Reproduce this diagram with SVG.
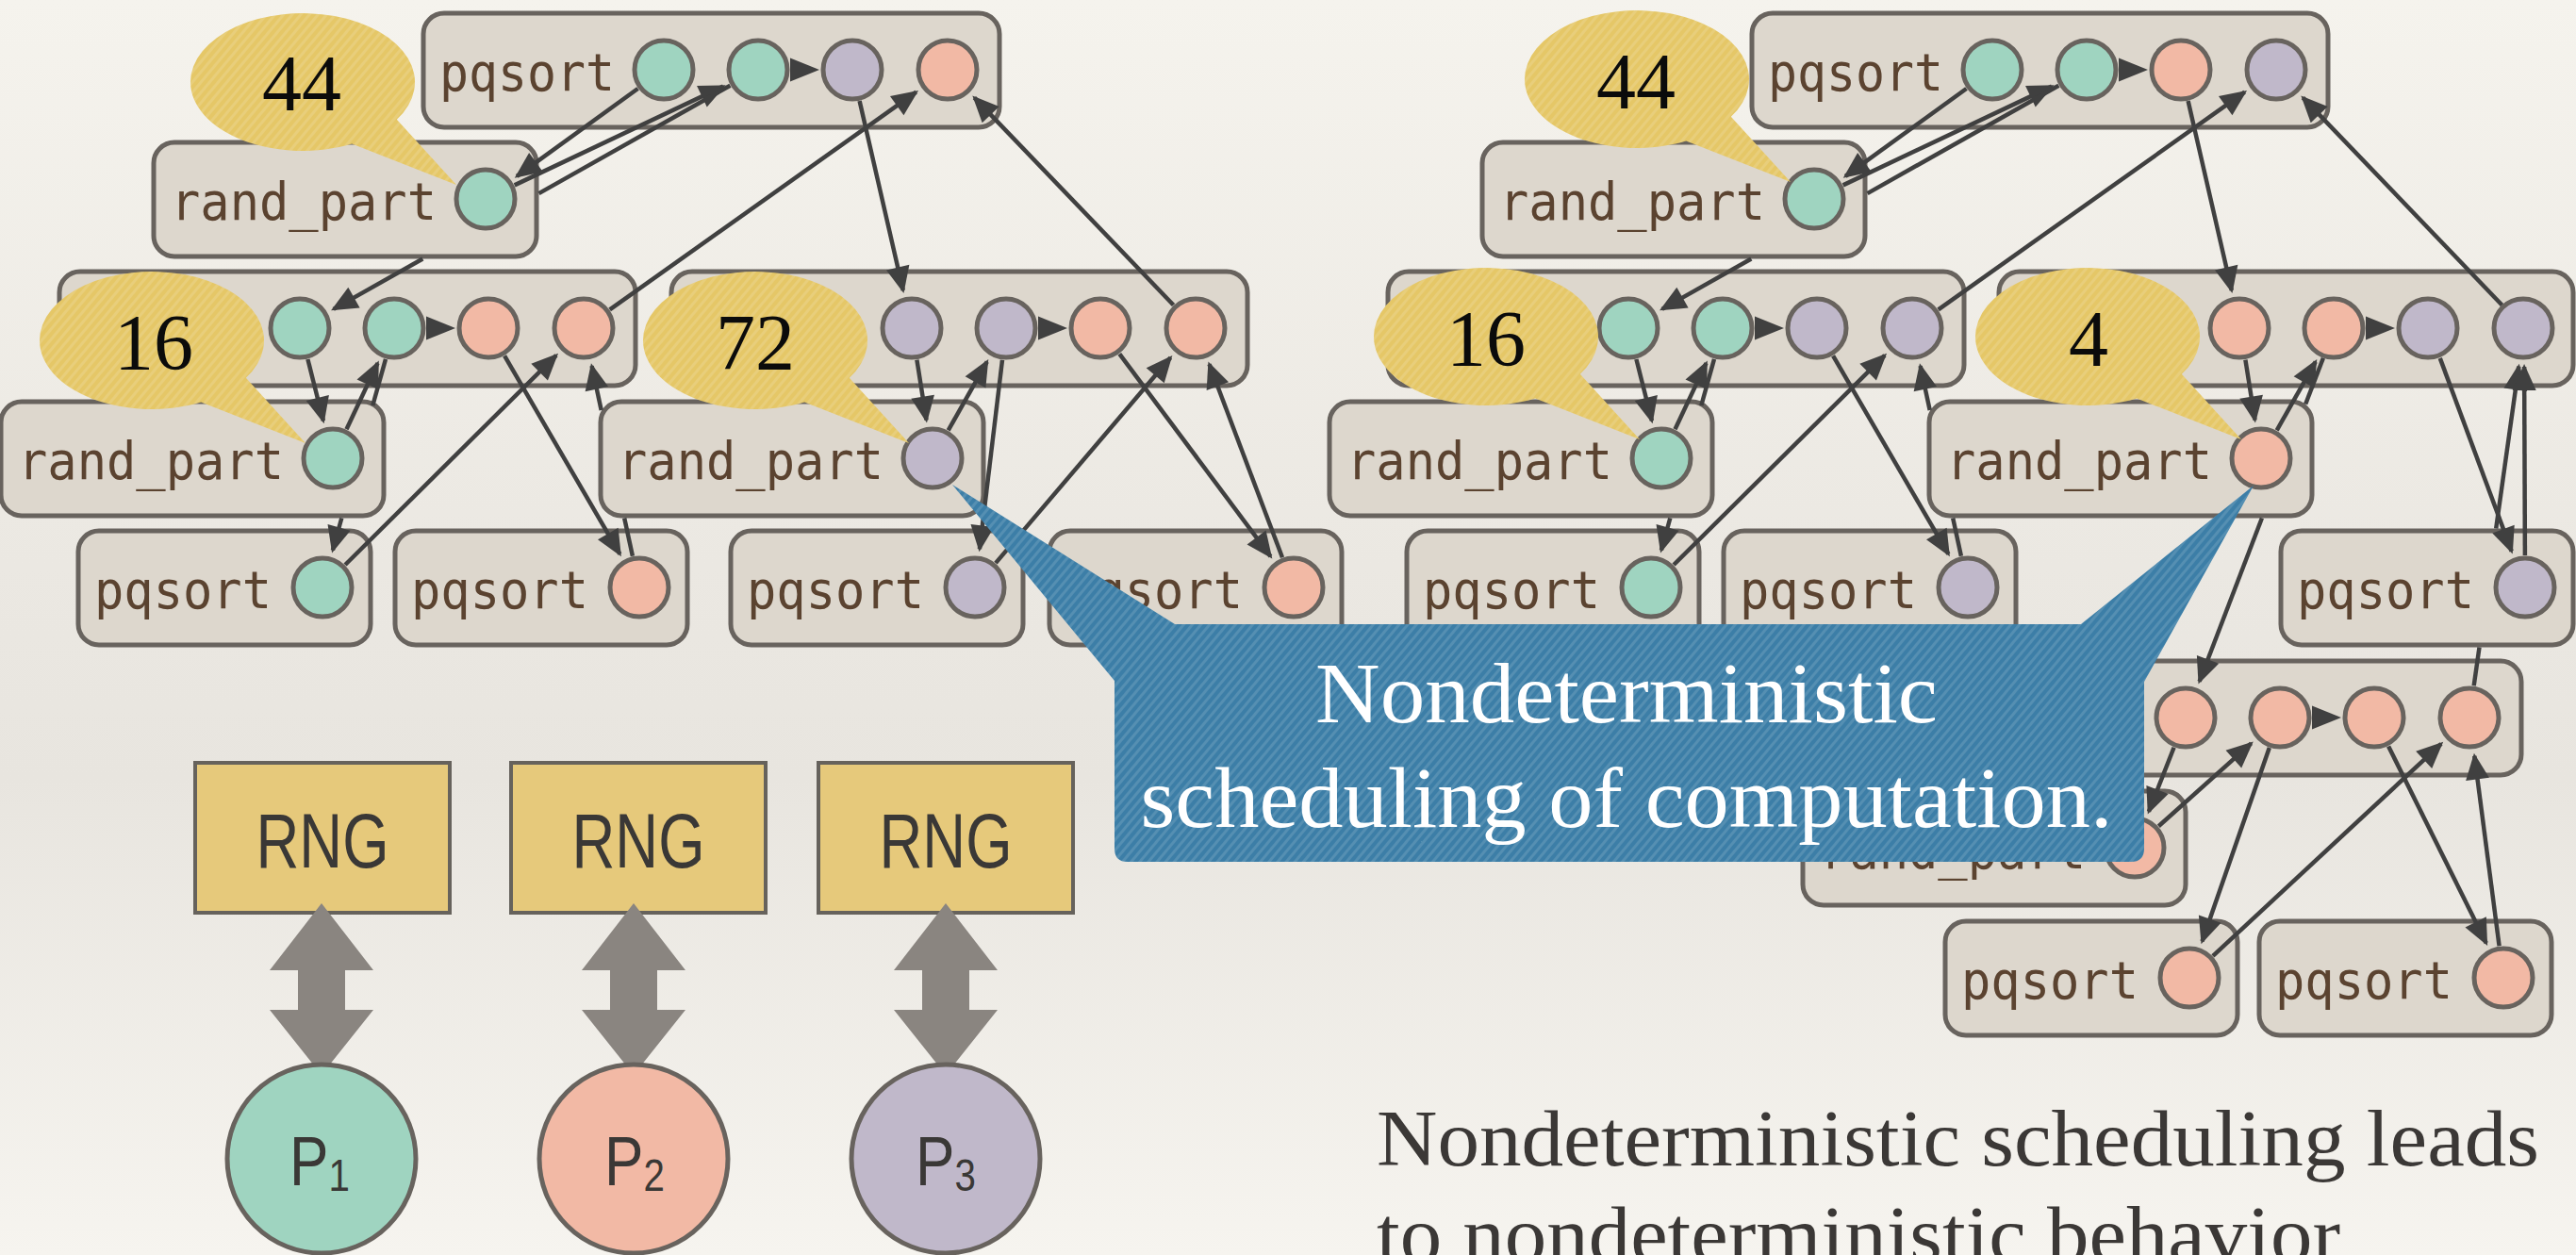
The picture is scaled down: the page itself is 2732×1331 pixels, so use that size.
<svg xmlns="http://www.w3.org/2000/svg" width="2732" height="1331" viewBox="0 0 2732 1331">
  <defs>
    <linearGradient id="bg" x1="0" y1="0" x2="0" y2="1">
      <stop offset="0" stop-color="#f5f3ed"/>
      <stop offset="0.45" stop-color="#ebe8e2"/>
      <stop offset="0.62" stop-color="#e8e5df"/>
      <stop offset="1" stop-color="#f6f4ef"/>
    </linearGradient>
    <pattern id="grain" width="7" height="7" patternUnits="userSpaceOnUse" patternTransform="rotate(40)">
      <rect width="3" height="7" fill="#ffffff" fill-opacity="0.13"/>
    </pattern>
    <marker id="ah" markerUnits="userSpaceOnUse" markerWidth="30" markerHeight="26" refX="25" refY="12.5" orient="auto" overflow="visible">
      <path d="M0,0 L28,12.5 L0,25 Z" fill="#404040"/>
    </marker>
    <!-- speech bubble: ellipse with a tail to the lower right, centred on 0,0 -->
    <path id="bub" d="M-119,0 A119,73 0 1,1 99.8,39.8 L163,109 L52.2,65.6 A119,73 0 0,1 -119,0 Z"/>
    <style>
      .box { fill:#ddd7cd; stroke:#68635e; stroke-width:5; }
      .lbl { font-family:"DejaVu Sans Mono","Liberation Mono",monospace; font-size:56px; fill:#5b4330; }
      .nd { stroke:#68635e; stroke-width:5; }
      .t { fill:#9fd4c0; }
      .s { fill:#f2b9a5; }
      .p { fill:#c0b8ca; }
      .edge { fill:none; stroke:#404040; stroke-width:4.5; }
      .a { marker-end:url(#ah); }
      .hz { fill:#404040; }
      .bfill { fill:#e5c767; }
      .btex { fill:url(#grain); }
      .btxt { font-family:"Liberation Serif","Times New Roman",serif; font-size:84px; fill:#0b0b0b; text-anchor:middle; }
      .call { fill:#3c7ea7; }
      .ctxt { font-family:"Liberation Serif","Times New Roman",serif; font-size:92px; fill:#ffffff; text-anchor:middle; }
      .rng { fill:#e6c97b; stroke:#66625c; stroke-width:4; }
      .rngt { font-family:"Liberation Sans",Arial,sans-serif; font-size:82px; fill:#3a3836; text-anchor:middle; }
      .dbl { fill:#8a8580; }
      .pt { font-family:"Liberation Sans",Arial,sans-serif; font-size:74px; fill:#3a3836; text-anchor:middle; }
      .big { font-family:"Liberation Serif","Times New Roman",serif; font-size:84px; fill:#3b3836; }
    </style>
  </defs>

  <rect width="2732" height="1331" fill="url(#bg)"/>

  <!-- ===== left computation tree ===== -->
  <g id="A">
    <rect class="box" x="449" y="14" width="611" height="121" rx="22"/>
    <text class="lbl" x="466" y="96" textLength="186" lengthAdjust="spacingAndGlyphs">pqsort</text>
    <circle class="nd t" cx="704" cy="74" r="31"/>
    <circle class="nd t" cx="804" cy="74" r="31"/>
    <circle class="nd p" cx="904" cy="74" r="31"/>
    <circle class="nd s" cx="1005" cy="74" r="31"/>
  </g>
  <g id="B">
    <rect class="box" x="163" y="151" width="406" height="121" rx="22"/>
    <text class="lbl" x="181" y="233" textLength="282" lengthAdjust="spacingAndGlyphs">rand_part</text>
    <circle class="nd t" cx="515" cy="211" r="31"/>
  </g>
  <g id="C">
    <rect class="box" x="63" y="288" width="611" height="121" rx="22"/>
    <circle class="nd t" cx="318" cy="348" r="31"/>
    <circle class="nd t" cx="418" cy="348" r="31"/>
    <circle class="nd s" cx="518" cy="348" r="31"/>
    <circle class="nd s" cx="619" cy="348" r="31"/>
  </g>
  <g id="D">
    <rect class="box" x="712" y="288" width="611" height="121" rx="22"/>
    <circle class="nd p" cx="967" cy="348" r="31"/>
    <circle class="nd p" cx="1067" cy="348" r="31"/>
    <circle class="nd s" cx="1167" cy="348" r="31"/>
    <circle class="nd s" cx="1268" cy="348" r="31"/>
  </g>
  <g id="E">
    <rect class="box" x="1" y="426" width="406" height="121" rx="22"/>
    <text class="lbl" x="19" y="508" textLength="282" lengthAdjust="spacingAndGlyphs">rand_part</text>
    <circle class="nd t" cx="353" cy="486" r="31"/>
  </g>
  <g id="F">
    <rect class="box" x="637" y="426" width="406" height="121" rx="22"/>
    <text class="lbl" x="655" y="508" textLength="282" lengthAdjust="spacingAndGlyphs">rand_part</text>
    <circle class="nd p" cx="989" cy="486" r="31"/>
  </g>
  <g id="G">
    <rect class="box" x="83" y="563" width="310" height="121" rx="22"/>
    <text class="lbl" x="100" y="645" textLength="188" lengthAdjust="spacingAndGlyphs">pqsort</text>
    <circle class="nd t" cx="342" cy="623" r="31"/>
  </g>
  <g id="H">
    <rect class="box" x="419" y="563" width="310" height="121" rx="22"/>
    <text class="lbl" x="436" y="645" textLength="188" lengthAdjust="spacingAndGlyphs">pqsort</text>
    <circle class="nd s" cx="678" cy="623" r="31"/>
  </g>
  <g id="I">
    <rect class="box" x="775" y="563" width="310" height="121" rx="22"/>
    <text class="lbl" x="792" y="645" textLength="188" lengthAdjust="spacingAndGlyphs">pqsort</text>
    <circle class="nd p" cx="1034" cy="623" r="31"/>
  </g>
  <g id="J">
    <rect class="box" x="1113" y="563" width="310" height="121" rx="22"/>
    <text class="lbl" x="1130" y="645" textLength="188" lengthAdjust="spacingAndGlyphs">pqsort</text>
    <circle class="nd s" cx="1372" cy="623" r="31"/>
  </g>

  <!-- ===== right computation tree ===== -->
  <g id="A2">
    <rect class="box" x="1858" y="14" width="611" height="121" rx="22"/>
    <text class="lbl" x="1875" y="96" textLength="186" lengthAdjust="spacingAndGlyphs">pqsort</text>
    <circle class="nd t" cx="2113" cy="74" r="31"/>
    <circle class="nd t" cx="2213" cy="74" r="31"/>
    <circle class="nd s" cx="2313" cy="74" r="31"/>
    <circle class="nd p" cx="2414" cy="74" r="31"/>
  </g>
  <g id="B2">
    <rect class="box" x="1572" y="151" width="406" height="121" rx="22"/>
    <text class="lbl" x="1590" y="233" textLength="282" lengthAdjust="spacingAndGlyphs">rand_part</text>
    <circle class="nd t" cx="1924" cy="211" r="31"/>
  </g>
  <g id="C2">
    <rect class="box" x="1472" y="288" width="611" height="121" rx="22"/>
    <circle class="nd t" cx="1727" cy="348" r="31"/>
    <circle class="nd t" cx="1827" cy="348" r="31"/>
    <circle class="nd p" cx="1927" cy="348" r="31"/>
    <circle class="nd p" cx="2028" cy="348" r="31"/>
  </g>
  <g id="D2">
    <rect class="box" x="2120" y="288" width="609" height="121" rx="22"/>
    <circle class="nd s" cx="2375" cy="348" r="31"/>
    <circle class="nd s" cx="2475" cy="348" r="31"/>
    <circle class="nd p" cx="2575" cy="348" r="31"/>
    <circle class="nd p" cx="2676" cy="348" r="31"/>
  </g>
  <g id="E2">
    <rect class="box" x="1410" y="426" width="406" height="121" rx="22"/>
    <text class="lbl" x="1428" y="508" textLength="282" lengthAdjust="spacingAndGlyphs">rand_part</text>
    <circle class="nd t" cx="1762" cy="486" r="31"/>
  </g>
  <g id="F2">
    <rect class="box" x="2046" y="426" width="406" height="121" rx="22"/>
    <text class="lbl" x="2064" y="508" textLength="282" lengthAdjust="spacingAndGlyphs">rand_part</text>
    <circle class="nd s" cx="2398" cy="486" r="31"/>
  </g>
  <g id="G2">
    <rect class="box" x="1492" y="563" width="310" height="121" rx="22"/>
    <text class="lbl" x="1509" y="645" textLength="188" lengthAdjust="spacingAndGlyphs">pqsort</text>
    <circle class="nd t" cx="1751" cy="623" r="31"/>
  </g>
  <g id="H2">
    <rect class="box" x="1828" y="563" width="310" height="121" rx="22"/>
    <text class="lbl" x="1845" y="645" textLength="188" lengthAdjust="spacingAndGlyphs">pqsort</text>
    <circle class="nd p" cx="2087" cy="623" r="31"/>
  </g>
  <g id="K2">
    <rect class="box" x="2419" y="563" width="310" height="121" rx="22"/>
    <text class="lbl" x="2436" y="645" textLength="188" lengthAdjust="spacingAndGlyphs">pqsort</text>
    <circle class="nd p" cx="2678" cy="623" r="31"/>
  </g>
  <g id="L2">
    <rect class="box" x="2063" y="701" width="611" height="121" rx="22"/>
    <circle class="nd s" cx="2318" cy="761" r="31"/>
    <circle class="nd s" cx="2418" cy="761" r="31"/>
    <circle class="nd s" cx="2518" cy="761" r="31"/>
    <circle class="nd s" cx="2619" cy="761" r="31"/>
  </g>
  <g id="M2">
    <rect class="box" x="1912" y="839" width="406" height="121" rx="22"/>
    <text class="lbl" x="1930" y="921" textLength="282" lengthAdjust="spacingAndGlyphs">rand_part</text>
    <circle class="nd s" cx="2264" cy="899" r="31"/>
  </g>
  <g id="N2">
    <rect class="box" x="2063" y="977" width="310" height="121" rx="22"/>
    <text class="lbl" x="2080" y="1059" textLength="188" lengthAdjust="spacingAndGlyphs">pqsort</text>
    <circle class="nd s" cx="2322" cy="1037" r="31"/>
  </g>
  <g id="O2">
    <rect class="box" x="2396" y="977" width="310" height="121" rx="22"/>
    <text class="lbl" x="2413" y="1059" textLength="188" lengthAdjust="spacingAndGlyphs">pqsort</text>
    <circle class="nd s" cx="2655" cy="1037" r="31"/>
  </g>

  <!-- ===== connectors (segments stop where a box lies over the edge) ===== -->
  <g id="connectors">
    <!-- left tree -->
    <path class="edge a" d="M676.5,94 L548.2,186.9"/>
    <path class="edge a" d="M545.7,196.4 L767,91.6"/>
    <path class="edge" d="M774.4,90.7 L571.5,205.1"/>
    <path class="edge a" d="M448.3,274.5 L353.7,327.9"/>
    <path class="edge a" d="M911.6,107.1 L957.8,308"/>
    <path class="edge a" d="M646.7,328.3 L971.6,97.7"/>
    <path class="edge a" d="M1244.5,323.5 L1033.4,103.6"/>
    <path class="edge a" d="M326.4,381 L342.9,446.3"/>
    <path class="edge a" d="M367.5,455.2 L400.5,385.1"/>
    <path class="edge" d="M409,380.8 L395.3,430"/>
    <path class="edge a" d="M362.3,549.5 L352.9,583.5"/>
    <path class="edge a" d="M535.1,377.4 L657.4,587.6"/>
    <path class="edge a" d="M366.1,599 L589.9,376.9"/>
    <path class="edge" d="M670.9,589.8 L662.2,549.5"/>
    <path class="edge a" d="M637.7,435 L627.6,388.1"/>
    <path class="edge a" d="M972.4,381.6 L982.5,445.5"/>
    <path class="edge a" d="M1005.7,456.4 L1046.8,383.7"/>
    <path class="edge a" d="M1063,381.8 L1038.9,582.3"/>
    <path class="edge a" d="M1187.3,375.3 L1347.5,590.1"/>
    <path class="edge a" d="M1056,597.1 L1241.4,379.2"/>
    <path class="edge a" d="M1360,591.2 L1282.5,386.3"/>
    <polygon class="hz" points="838,61.5 869,74 838,86.5"/>
    <polygon class="hz" points="452,335.5 483,348 452,360.5"/>
    <polygon class="hz" points="1101,335.5 1132,348 1101,360.5"/>
    <!-- right tree -->
    <path class="edge a" d="M2085.5,94 L1957.2,186.9"/>
    <path class="edge a" d="M1954.7,196.4 L2176,91.6"/>
    <path class="edge" d="M2183.4,90.7 L1980.5,205.1"/>
    <path class="edge a" d="M1857.3,274.5 L1762.7,327.9"/>
    <path class="edge a" d="M2320.6,107.1 L2366.8,308"/>
    <path class="edge a" d="M2055.7,328.3 L2380.6,97.7"/>
    <path class="edge a" d="M2653.5,323.5 L2442.4,103.6"/>
    <path class="edge a" d="M1735.4,381 L1751.9,446.3"/>
    <path class="edge a" d="M1776.5,455.2 L1809.5,385.1"/>
    <path class="edge" d="M1818,380.8 L1804.3,430"/>
    <path class="edge a" d="M1771.3,549.5 L1761.9,583.5"/>
    <path class="edge a" d="M1944.1,377.4 L2066.4,587.6"/>
    <path class="edge a" d="M1775.1,599 L1998.9,376.9"/>
    <path class="edge" d="M2079.9,589.8 L2071.2,549.5"/>
    <path class="edge a" d="M2046.7,435 L2036.6,388.1"/>
    <path class="edge a" d="M2381.4,381.6 L2391.5,445.5"/>
    <path class="edge a" d="M2414.7,456.4 L2455.8,383.7"/>
    <path class="edge" d="M2463.9,379.8 L2445.2,428.5"/>
    <path class="edge a" d="M2398.9,549.5 L2332.6,722.7"/>
    <path class="edge a" d="M2587.8,379.9 L2663.7,584.6"/>
    <path class="edge" d="M2623.7,727.3 L2629.5,686.5"/>
    <path class="edge a" d="M2647.2,560.5 L2671.3,388.6"/>
    <path class="edge a" d="M2677.9,589 L2677.1,389"/>
    <path class="edge a" d="M2305.6,792.7 L2278.9,860.8"/>
    <path class="edge a" d="M2289.3,876.3 L2387.5,788.4"/>
    <path class="edge a" d="M2406.8,793.1 L2335.5,998.3"/>
    <path class="edge a" d="M2533.1,791.5 L2636.8,1000.3"/>
    <path class="edge a" d="M2346.9,1013.9 L2589,788.9"/>
    <path class="edge a" d="M2650.6,1003.3 L2624.3,801.7"/>
    <polygon class="hz" points="2247,61.5 2278,74 2247,86.5"/>
    <polygon class="hz" points="1861,335.5 1892,348 1861,360.5"/>
    <polygon class="hz" points="2509,335.5 2540,348 2509,360.5"/>
    <polygon class="hz" points="2452,748.5 2483,761 2452,773.5"/>
  </g>

  <!-- ===== counter bubbles ===== -->
  <g id="bubble-l44" transform="translate(321 87)">
    <use href="#bub" class="bfill"/><use href="#bub" class="btex"/>
    <text class="btxt" x="-1" y="30">44</text>
  </g>
  <g id="bubble-l16" transform="translate(161 361)">
    <use href="#bub" class="bfill"/><use href="#bub" class="btex"/>
    <text class="btxt" x="2" y="31">16</text>
  </g>
  <g id="bubble-l72" transform="translate(801 361)">
    <use href="#bub" class="bfill"/><use href="#bub" class="btex"/>
    <text class="btxt" x="0" y="31">72</text>
  </g>
  <g id="bubble-r44" transform="translate(1736 84)">
    <use href="#bub" class="bfill"/><use href="#bub" class="btex"/>
    <text class="btxt" x="-1" y="31">44</text>
  </g>
  <g id="bubble-r16" transform="translate(1576 357)">
    <use href="#bub" class="bfill"/><use href="#bub" class="btex"/>
    <text class="btxt" x="0" y="31">16</text>
  </g>
  <g id="bubble-r4" transform="translate(2214 357)">
    <use href="#bub" class="bfill"/><use href="#bub" class="btex"/>
    <text class="btxt" x="1" y="31">4</text>
  </g>

  <!-- ===== callout pointing at both partition steps ===== -->
  <g id="callout">
    <path class="call" d="M1182,722 L1010,514 L1246,662 L2207,662 L2390,515 L2274,723 L2274,900 Q2274,914 2260,914 L1196,914 Q1182,914 1182,900 Z"/>
    <path fill="url(#grain)" d="M1182,722 L1010,514 L1246,662 L2207,662 L2390,515 L2274,723 L2274,900 Q2274,914 2260,914 L1196,914 Q1182,914 1182,900 Z"/>
    <text class="ctxt" x="1725" y="766" textLength="660" lengthAdjust="spacingAndGlyphs">Nondeterministic</text>
    <text class="ctxt" x="1725" y="877" textLength="1031" lengthAdjust="spacingAndGlyphs">scheduling of computation.</text>
  </g>

  <!-- ===== per-processor random generators ===== -->
  <g id="rng1">
    <rect class="rng" x="207" y="809" width="270" height="159"/>
    <text class="rngt" x="342" y="920" textLength="141" lengthAdjust="spacingAndGlyphs">RNG</text>
  </g>
  <g id="rng2">
    <rect class="rng" x="542" y="809" width="270" height="159"/>
    <text class="rngt" x="677" y="920" textLength="141" lengthAdjust="spacingAndGlyphs">RNG</text>
  </g>
  <g id="rng3">
    <rect class="rng" x="868" y="809" width="270" height="159"/>
    <text class="rngt" x="1003" y="920" textLength="141" lengthAdjust="spacingAndGlyphs">RNG</text>
  </g>

  <g id="links">
    <polygon class="dbl" points="341,958 396,1029 366,1029 366,1071 396,1071 341,1140 286,1071 316,1071 316,1029 286,1029"/>
    <polygon class="dbl" points="672,958 727,1029 697,1029 697,1071 727,1071 672,1140 617,1071 647,1071 647,1029 617,1029"/>
    <polygon class="dbl" points="1003,958 1058,1029 1028,1029 1028,1071 1058,1071 1003,1140 948,1071 978,1071 978,1029 948,1029"/>
  </g>

  <g id="P1">
    <circle class="nd t" cx="341" cy="1229" r="100"/>
    <text class="pt" transform="translate(339 1257) scale(0.84 1)">P<tspan font-size="48" dy="6">1</tspan></text>
  </g>
  <g id="P2">
    <circle class="nd s" cx="672" cy="1229" r="100"/>
    <text class="pt" transform="translate(673 1257) scale(0.84 1)">P<tspan font-size="48" dy="6">2</tspan></text>
  </g>
  <g id="P3">
    <circle class="nd p" cx="1003" cy="1229" r="100"/>
    <text class="pt" transform="translate(1003 1257) scale(0.84 1)">P<tspan font-size="48" dy="6">3</tspan></text>
  </g>

  <!-- ===== caption ===== -->
  <text class="big" x="1460" y="1236" textLength="1233" lengthAdjust="spacingAndGlyphs">Nondeterministic scheduling leads</text>
  <text class="big" x="1460" y="1338" textLength="1022" lengthAdjust="spacingAndGlyphs">to nondeterministic behavior</text>
</svg>
